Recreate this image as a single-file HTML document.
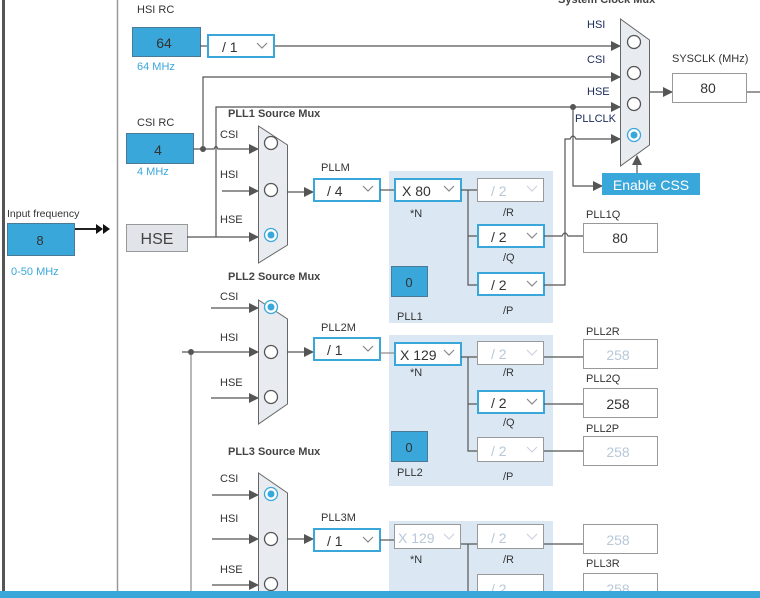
<!DOCTYPE html>
<html><head><meta charset="utf-8"><style>
html,body{margin:0;padding:0;background:#fff;}
svg{display:block;font-family:"Liberation Sans",sans-serif;}
.l{font-size:11px;fill:#333;}
.b{font-size:11px;fill:#444;font-weight:bold;}
.n{font-size:11px;fill:#1a2a5a;}
.v{font-size:14px;fill:#333;}
.d{font-size:14px;fill:#b8c8d8;}
.ln{stroke:#555;stroke-width:1.2;fill:none;}
.g{stroke:#888;stroke-width:1.2;fill:none;}
</style></head><body>
<svg width="760" height="598" viewBox="0 0 760 598" xmlns="http://www.w3.org/2000/svg">
<defs>
<marker id="a" markerWidth="10" markerHeight="10" refX="9" refY="5" orient="auto" markerUnits="userSpaceOnUse"><path d="M0,0 L10,5 L0,10 z" fill="#555"/></marker>
</defs>
<!-- left frame -->
<rect x="2" y="0" width="3" height="598" fill="#555"/>
<line x1="117.5" y1="0" x2="117.5" y2="598" stroke="#999" stroke-width="1.5"/>
<text x="7" y="217" class="l" style="font-size:10.5px">Input frequency</text>
<rect x="7.5" y="223.5" width="67" height="32" fill="#3aa7da" stroke="#4a7a96"/>
<text x="40" y="245" class="v" text-anchor="middle" style="font-size:13px">8</text>
<text x="11" y="275" style="font-size:11px;fill:#3aa7da">0-50 MHz</text>
<line x1="75" y1="229" x2="96" y2="229" stroke="#222" stroke-width="2"/>
<path d="M96,224 L103,229 L96,234z M103,224 L110,229 L103,234z" fill="#111"/>

<!-- HSI RC -->
<text x="137" y="13" class="l">HSI RC</text>
<rect x="132.5" y="27.5" width="68" height="29" fill="#3aa7da" stroke="#4a7a96"/>
<text x="164" y="48" class="v" text-anchor="middle">64</text>
<text x="137" y="70" style="font-size:11px;fill:#3aa7da">64 MHz</text>
<line x1="200" y1="46" x2="207" y2="46" class="ln"/>
<rect x="208" y="35" width="66" height="22" fill="#fff" stroke="#3aa7da" stroke-width="2"/>
<text x="222" y="52" class="v">/ 1</text>
<polyline points="257,43 262,48 267,43" class="g"/>
<line x1="275" y1="46" x2="620" y2="46" class="ln" marker-end="url(#a)"/>

<!-- CSI RC -->
<text x="137" y="126" class="l">CSI RC</text>
<rect x="126.5" y="133.5" width="67" height="30" fill="#3aa7da" stroke="#4a7a96"/>
<text x="158" y="155" class="v" text-anchor="middle">4</text>
<text x="137" y="175" style="font-size:11px;fill:#3aa7da">4 MHz</text>
<path d="M193,149 H214 q2,-5 4,0 H258" class="ln" marker-end="url(#a)"/>
<path d="M203,149 V77 H620" class="ln" marker-end="url(#a)"/>
<circle cx="203" cy="149" r="3" fill="#555"/>

<!-- HSE -->
<rect x="126.5" y="224.5" width="61" height="27" fill="#e1e4e8" stroke="#999"/>
<text x="157" y="244" class="v" text-anchor="middle" style="font-size:16px;fill:#444">HSE</text>
<line x1="187" y1="237" x2="258" y2="237" class="ln" marker-end="url(#a)"/>
<path d="M216,237 V107 H620" class="ln" marker-end="url(#a)"/>
<line x1="222" y1="191" x2="258" y2="191" class="ln" marker-end="url(#a)"/>

<!-- PLL1 mux -->
<text x="228" y="117" class="b">PLL1 Source Mux</text>
<text x="220" y="138" class="l">CSI</text>
<text x="220" y="178" class="l">HSI</text>
<text x="220" y="223" class="l">HSE</text>
<path d="M258.5,126 L287.5,145 V245 L258.5,263 z" fill="#e8ecf0" stroke="#666"/>
<circle cx="271" cy="143" r="6.5" fill="#fff" stroke="#555" stroke-width="1.3"/>
<circle cx="271" cy="190" r="6.5" fill="#fff" stroke="#555" stroke-width="1.3"/>
<circle cx="271" cy="235" r="6.5" fill="#fff" stroke="#3aa7da" stroke-width="1.3"/>
<circle cx="271" cy="235" r="3.5" fill="#3aa7da"/>
<line x1="287" y1="192" x2="313" y2="192" class="ln" marker-end="url(#a)"/>
<text x="321" y="171" class="l">PLLM</text>
<rect x="314" y="179" width="66" height="22" fill="#fff" stroke="#3aa7da" stroke-width="2"/>
<text x="327" y="196" class="v">/ 4</text>
<polyline points="363,186 368,191 373,186" class="g"/>

<!-- PLL1 panel -->
<rect x="389" y="171" width="164" height="152" fill="#dbe8f4"/>
<line x1="380" y1="190" x2="394" y2="190" class="ln"/>
<rect x="395" y="179" width="66" height="22" fill="#fff" stroke="#3aa7da" stroke-width="2"/>
<text x="402" y="196" class="v">X 80</text>
<polyline points="444,186 449,191 454,186" class="g"/>
<text x="410" y="217" class="l">*N</text>
<path d="M461,190 H477 M468,190 V285 H477 M468,236 H477" class="ln"/>
<rect x="477.5" y="178.5" width="66" height="23" fill="#fff" stroke="#999"/>
<text x="491" y="196" class="d">/ 2</text>
<polyline points="527,186 532,191 537,186" stroke="#ccd" fill="none"/>
<text x="503" y="216" class="l">/R</text>
<rect x="478" y="225" width="66" height="22" fill="#fff" stroke="#3aa7da" stroke-width="2"/>
<text x="491" y="242" class="v">/ 2</text>
<polyline points="527,233 532,238 537,233" class="g"/>
<text x="503" y="261" class="l">/Q</text>
<rect x="478" y="273" width="66" height="22" fill="#fff" stroke="#3aa7da" stroke-width="2"/>
<text x="491" y="290" class="v">/ 2</text>
<polyline points="527,281 532,286 537,281" class="g"/>
<text x="503" y="314" class="l">/P</text>
<rect x="391.5" y="266.5" width="36" height="30" fill="#3aa7da" stroke="#4a7a96"/>
<text x="409" y="287" class="v" text-anchor="middle" style="font-size:13px">0</text>
<text x="397" y="320" class="l">PLL1</text>
<!-- outputs -->
<path d="M544,236 H562 q3,-6 6,0 H583" class="ln"/>
<path d="M544,285 H565 V139 H570 q3,-6 6,0 H620" class="ln" marker-end="url(#a)"/>
<path d="M573,107 V186 H602" class="ln" marker-end="url(#a)"/>
<circle cx="573" cy="107" r="3" fill="#555"/>
<text x="586" y="218" class="l">PLL1Q</text>
<rect x="583.5" y="223.5" width="74" height="29" fill="#fff" stroke="#999"/>
<text x="620" y="243" class="v" text-anchor="middle">80</text>

<!-- System clock mux -->
<text x="558" y="3" class="b">System Clock Mux</text>
<text x="587" y="28" class="n">HSI</text>
<text x="587" y="63" class="n">CSI</text>
<text x="587" y="95" class="n">HSE</text>
<text x="575" y="122" class="n">PLLCLK</text>
<path d="M620.5,19 L649.5,40 V145 L620.5,166 z" fill="#e8ecf0" stroke="#666"/>
<circle cx="634" cy="42" r="6.5" fill="#fff" stroke="#555" stroke-width="1.3"/>
<circle cx="634" cy="73" r="6.5" fill="#fff" stroke="#555" stroke-width="1.3"/>
<circle cx="634" cy="104" r="6.5" fill="#fff" stroke="#555" stroke-width="1.3"/>
<circle cx="634" cy="135" r="6.5" fill="#fff" stroke="#3aa7da" stroke-width="1.3"/>
<circle cx="634" cy="135" r="3.5" fill="#3aa7da"/>
<line x1="650" y1="92" x2="672" y2="92" class="ln" marker-end="url(#a)"/>
<text x="672" y="62" class="l">SYSCLK (MHz)</text>
<rect x="672.5" y="73.5" width="74" height="29" fill="#fff" stroke="#999"/>
<text x="708" y="93" class="v" text-anchor="middle">80</text>
<line x1="747" y1="92" x2="760" y2="92" class="ln"/>
<rect x="602" y="173" width="98" height="22" fill="#3aa7da"/>
<text x="651" y="190" text-anchor="middle" style="font-size:14px;fill:#fff">Enable CSS</text>
<line x1="637" y1="173" x2="637" y2="156" class="ln" marker-end="url(#a)"/>

<!-- PLL2 mux -->
<text x="228" y="280" class="b">PLL2 Source Mux</text>
<text x="220" y="300" class="l">CSI</text>
<text x="220" y="341" class="l">HSI</text>
<text x="220" y="386" class="l">HSE</text>
<line x1="211" y1="308" x2="258" y2="308" class="ln" marker-end="url(#a)"/>
<line x1="182" y1="352" x2="258" y2="352" class="ln" marker-end="url(#a)"/>
<line x1="211" y1="398" x2="258" y2="398" class="ln" marker-end="url(#a)"/>
<line x1="191" y1="352" x2="191" y2="598" class="g"/>
<circle cx="191" cy="352" r="3" fill="#555"/>
<path d="M258.5,300 L287.5,319 V404 L258.5,424 z" fill="#e8ecf0" stroke="#666"/>
<circle cx="271" cy="307" r="6.5" fill="#fff" stroke="#3aa7da" stroke-width="1.3"/>
<circle cx="271" cy="307" r="3.5" fill="#3aa7da"/>
<circle cx="271" cy="352" r="6.5" fill="#fff" stroke="#555" stroke-width="1.3"/>
<circle cx="271" cy="397" r="6.5" fill="#fff" stroke="#555" stroke-width="1.3"/>
<line x1="287" y1="352" x2="313" y2="352" class="ln" marker-end="url(#a)"/>
<text x="321" y="331" class="l">PLL2M</text>
<rect x="314" y="338" width="66" height="22" fill="#fff" stroke="#3aa7da" stroke-width="2"/>
<text x="327" y="355" class="v">/ 1</text>
<polyline points="363,346 368,351 373,346" class="g"/>

<rect x="389" y="335" width="164" height="151" fill="#dbe8f4"/>
<line x1="380" y1="353" x2="394" y2="353" class="g"/>
<rect x="395" y="343" width="66" height="22" fill="#fff" stroke="#3aa7da" stroke-width="2"/>
<text x="400" y="360" class="v">X 129</text>
<polyline points="444,350 449,355 454,350" class="g"/>
<text x="410" y="376" class="l">*N</text>
<path d="M461,357 H477 M468,357 V451 H477 M468,404 H477" class="ln"/>
<rect x="477.5" y="341.5" width="66" height="23" fill="#fff" stroke="#999"/>
<text x="491" y="359" class="d">/ 2</text>
<polyline points="527,350 532,355 537,350" stroke="#ccd" fill="none"/>
<text x="503" y="376" class="l">/R</text>
<rect x="478" y="391" width="66" height="22" fill="#fff" stroke="#3aa7da" stroke-width="2"/>
<text x="491" y="408" class="v">/ 2</text>
<polyline points="527,399 532,404 537,399" class="g"/>
<text x="503" y="426" class="l">/Q</text>
<rect x="477.5" y="437.5" width="66" height="24" fill="#fff" stroke="#999"/>
<text x="491" y="456" class="d">/ 2</text>
<polyline points="527,447 532,452 537,447" stroke="#ccd" fill="none"/>
<text x="503" y="480" class="l">/P</text>
<rect x="391.5" y="431.5" width="36" height="30" fill="#3aa7da" stroke="#4a7a96"/>
<text x="409" y="452" class="v" text-anchor="middle" style="font-size:13px">0</text>
<text x="397" y="476" class="l">PLL2</text>
<path d="M544,357 H583 M544,404 H583 M544,451 H583" class="ln"/>
<text x="586" y="335" class="l">PLL2R</text>
<rect x="583.5" y="339.5" width="74" height="29" fill="#fff" stroke="#999"/>
<text x="618" y="360" class="d" text-anchor="middle">258</text>
<text x="586" y="382" class="l">PLL2Q</text>
<rect x="583.5" y="388.5" width="74" height="29" fill="#fff" stroke="#999"/>
<text x="618" y="409" class="v" text-anchor="middle">258</text>
<text x="586" y="432" class="l">PLL2P</text>
<rect x="583.5" y="436.5" width="74" height="29" fill="#fff" stroke="#999"/>
<text x="618" y="457" class="d" text-anchor="middle">258</text>

<!-- PLL3 mux -->
<text x="228" y="455" class="b">PLL3 Source Mux</text>
<text x="220" y="482" class="l">CSI</text>
<text x="220" y="522" class="l">HSI</text>
<text x="220" y="573" class="l">HSE</text>
<line x1="212" y1="495" x2="258" y2="495" class="ln" marker-end="url(#a)"/>
<line x1="212" y1="539" x2="258" y2="539" class="ln" marker-end="url(#a)"/>
<line x1="212" y1="585" x2="258" y2="585" class="ln" marker-end="url(#a)"/>
<path d="M258.5,473 L287.5,493 V600 L258.5,600 z" fill="#e8ecf0" stroke="#666"/>
<circle cx="271" cy="494" r="6.5" fill="#fff" stroke="#3aa7da" stroke-width="1.3"/>
<circle cx="271" cy="494" r="3.5" fill="#3aa7da"/>
<circle cx="271" cy="539" r="6.5" fill="#fff" stroke="#555" stroke-width="1.3"/>
<circle cx="271" cy="584" r="6.5" fill="#fff" stroke="#555" stroke-width="1.3"/>
<line x1="287" y1="539" x2="313" y2="539" class="ln" marker-end="url(#a)"/>
<text x="321" y="521" class="l">PLL3M</text>
<rect x="314" y="529" width="66" height="22" fill="#fff" stroke="#3aa7da" stroke-width="2"/>
<text x="327" y="546" class="v">/ 1</text>
<polyline points="363,537 368,542 373,537" class="g"/>
<rect x="389" y="521" width="164" height="77" fill="#dbe8f4"/>
<line x1="380" y1="540" x2="394" y2="540" class="ln"/>
<rect x="394.5" y="524.5" width="66" height="24" fill="#fff" stroke="#999"/>
<text x="398" y="543" class="d">X 129</text>
<polyline points="444,534 449,539 454,534" stroke="#ccd" fill="none"/>
<text x="410" y="563" class="l">*N</text>
<path d="M461,544 H477 M468,544 V598" class="ln"/>
<rect x="477.5" y="524.5" width="66" height="24" fill="#fff" stroke="#999"/>
<text x="491" y="543" class="d">/ 2</text>
<polyline points="527,534 532,539 537,534" stroke="#ccd" fill="none"/>
<text x="503" y="563" class="l">/R</text>
<rect x="477.5" y="574.5" width="66" height="24" fill="#fff" stroke="#999"/>
<text x="491" y="594" class="d">/ 2</text>
<path d="M544,544 H583" class="ln"/>
<rect x="583.5" y="524.5" width="74" height="29" fill="#fff" stroke="#999"/>
<text x="618" y="545" class="d" text-anchor="middle">258</text>
<text x="586" y="567" class="l">PLL3R</text>
<rect x="583.5" y="573.5" width="74" height="29" fill="#fff" stroke="#999"/>
<text x="618" y="594" class="d" text-anchor="middle">258</text>

<rect x="0" y="591" width="760" height="7" fill="#3aa7da"/>
</svg>
</body></html>
